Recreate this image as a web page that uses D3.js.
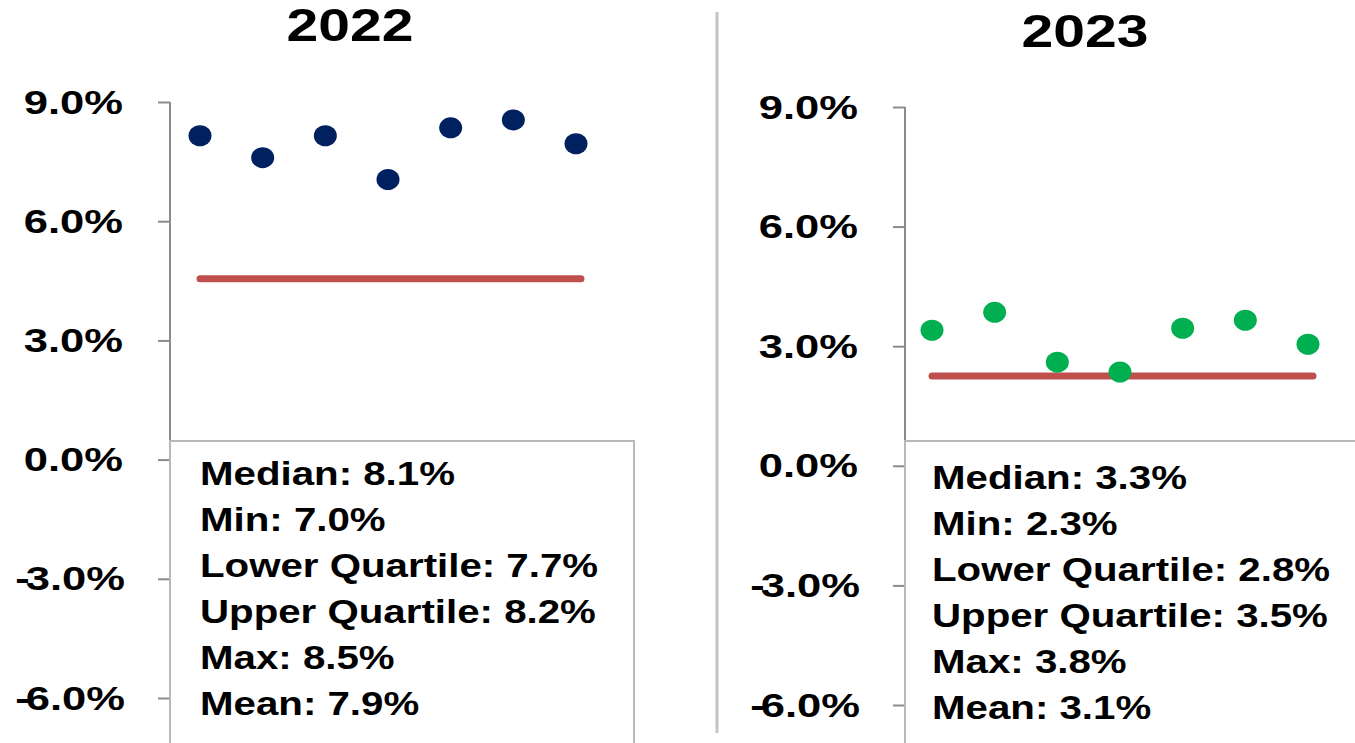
<!DOCTYPE html>
<html>
<head>
<meta charset="utf-8">
<script src="https://cdn.jsdelivr.net/npm/d3@7"></script>
<style>
  body { margin: 0; background: #fff; }
  text { font-family: "Liberation Sans", Arial, sans-serif; font-weight: bold; fill: #000; }
</style>
</head>
<body>
<svg width="1355" height="743"></svg>
<script>
let width = 1355;
let height = 743;

let years = ['2022', '2023'];
let tickValues = [-6, -3, 0, 3, 6, 9];
let values2022 = [8.15, 7.6, 8.15, 7.05, 8.35, 8.55, 7.95];
let values2023 = [3.4, 3.85, 2.6, 2.35, 3.45, 3.65, 3.05];
let mean2022 = 4.55;
let mean2023 = 2.25;
let stats2022 = ['Median: 8.1%', 'Min: 7.0%', 'Lower Quartile: 7.7%', 'Upper Quartile: 8.2%', 'Max: 8.5%', 'Mean: 7.9%'];
let stats2023 = ['Median: 3.3%', 'Min: 2.3%', 'Lower Quartile: 2.8%', 'Upper Quartile: 3.5%', 'Max: 3.8%', 'Mean: 3.1%'];

let panels = [
  { year: years[0], values: values2022, line: mean2022, stats: stats2022, color: '#002060',
    axisX: 170, top: 102, bottom: 698, x0: 200, x1: 576, boxTop: 441, boxRight: 634,
    titleX: 350, titleY: 41, textY: 485, labelX: 123 },
  { year: years[1], values: values2023, line: mean2023, stats: stats2023, color: '#00b050',
    axisX: 905, top: 107, bottom: 705, x0: 932, x1: 1308, boxTop: 441, boxRight: null,
    titleX: 1085, titleY: 47, textY: 489, labelX: 858 }
];

let svg = d3.select('svg')
            .attr('width', width)
            .attr('height', height);

// divider between the two years
svg.append('line')
    .attr('x1', 717).attr('x2', 717)
    .attr('y1', 12).attr('y2', 733)
    .attr('stroke', '#c4c4c4')
    .attr('stroke-width', 3);

panels.forEach(p => {
  let yScale = d3.scaleLinear()
                  .domain([-6, 9])
                  .range([p.bottom, p.top]);

  let xScale = d3.scalePoint()
                  .domain(d3.range(p.values.length))
                  .range([p.x0, p.x1]);

  let g = svg.append('g');

  // title
  g.append('text')
      .attr('transform', `translate(${p.titleX},${p.titleY}) scale(1.24,1)`)
      .attr('text-anchor', 'middle')
      .style('font-size', '46px')
      .text(p.year);

  // axis
  let axis = d3.axisLeft(yScale)
                .tickValues(tickValues)
                .tickSize(12)
                .tickSizeOuter(0)
                .tickFormat(d => d.toFixed(1) + '%');

  let ax = g.append('g')
      .attr('transform', `translate(${p.axisX},0)`)
      .call(axis);

  ax.select('.domain').remove();
  ax.selectAll('.tick line')
      .attr('stroke', '#8c8c8c')
      .attr('stroke-width', 2);
  ax.selectAll('.tick text')
      .attr('x', null)
      .attr('dy', null)
      .attr('transform', d => `translate(${p.labelX - p.axisX + (d < 0 ? 2 : 0)},11) scale(1.32,1)`)
      .style('font-size', '33px')
      .style('font-family', '"Liberation Sans", Arial, sans-serif')
      .style('font-weight', 'bold')
      .attr('fill', '#000')
      .each(function (d) {
        if (d < 0) {
          // tighter minus sign, as in the original
          let t = d3.select(this).text('');
          t.append('tspan').style('letter-spacing', '-3px').text('-');
          t.append('tspan').text(Math.abs(d).toFixed(1) + '%');
        }
      });

  g.append('line')
      .attr('x1', p.axisX).attr('x2', p.axisX)
      .attr('y1', yScale(9)).attr('y2', height)
      .attr('stroke', '#8c8c8c')
      .attr('stroke-width', 2);

  // stats box
  let boxRight = p.boxRight === null ? width + 5 : p.boxRight;
  g.append('rect')
      .attr('x', p.axisX)
      .attr('y', p.boxTop)
      .attr('width', boxRight - p.axisX)
      .attr('height', height - p.boxTop + 10)
      .attr('fill', 'none')
      .attr('stroke', '#b8b8b8')
      .attr('stroke-width', 2);

  g.selectAll('.stat')
    .data(p.stats)
    .enter()
    .append('text')
      .classed('stat', true)
      .attr('transform', (d, i) => `translate(${p.x0},${p.textY + i * 46}) scale(1.22,1)`)
      .style('font-size', '33px')
      .text(d => d);

  // mean line
  g.append('line')
      .attr('x1', xScale(0))
      .attr('x2', xScale(p.values.length - 1) + 5)
      .attr('y1', yScale(p.line))
      .attr('y2', yScale(p.line))
      .attr('stroke', '#c0504d')
      .attr('stroke-width', 7)
      .attr('stroke-linecap', 'round');

  // points
  g.selectAll('.dot')
    .data(p.values)
    .enter()
    .append('ellipse')
      .classed('dot', true)
      .attr('cx', (d, i) => xScale(i))
      .attr('cy', d => yScale(d))
      .attr('rx', 11.5)
      .attr('ry', 10.5)
      .attr('fill', p.color);
});
</script>
</body>
</html>
